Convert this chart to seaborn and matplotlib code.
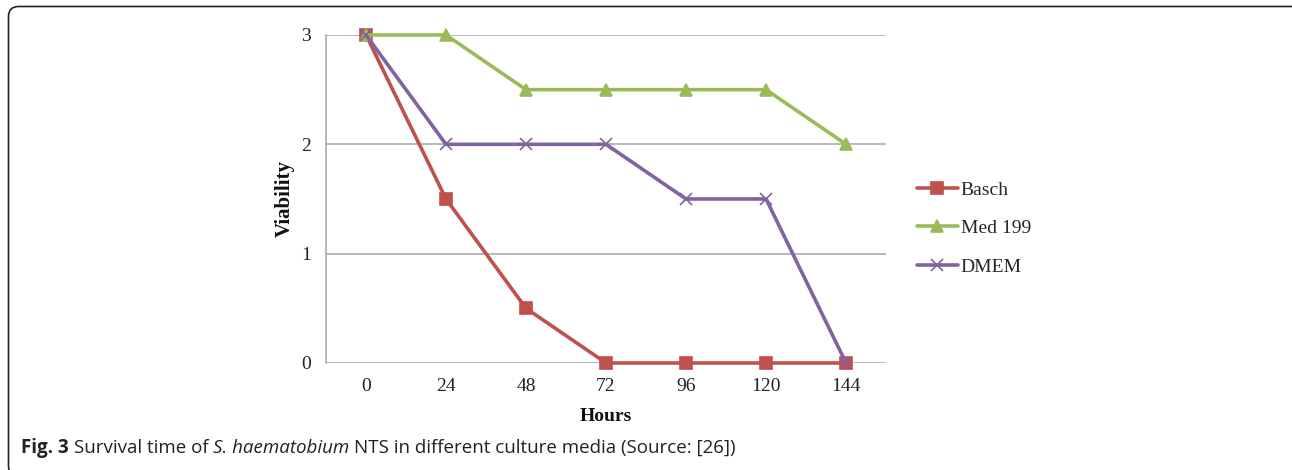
import matplotlib
import matplotlib.pyplot as plt
import pandas as pd
import seaborn as sns
from matplotlib.patches import FancyBboxPatch

matplotlib.use("Agg")

# Data
hours = ["0", "24", "48", "72", "96", "120", "144"]
basch = [3, 1.5, 0.5, 0, 0, 0, 0]
med199 = [3, 3, 2.5, 2.5, 2.5, 2.5, 2]
dmem = [3, 2, 2, 2, 1.5, 1.5, 0]
series_names = ["Basch", "Med 199", "DMEM"]

df = pd.DataFrame({
    "Hours": hours * 3,
    "Viability": basch + med199 + dmem,
    "Medium": [n for n in series_names for _ in hours],
})

sns.set_style("white")
plt.rcParams["font.family"] = ["Liberation Serif", "DejaVu Serif"]

fig = plt.figure(figsize=(12.92, 4.70), dpi=100)
ax = fig.add_axes([0.2523, 0.2277, 0.4335, 0.6979])

colors = {"Basch": "#C0504D", "Med 199": "#9BBB59", "DMEM": "#8064A2"}
markers = {"Basch": "s", "Med 199": "^", "DMEM": "x"}
for name in series_names:
    sub = df[df["Medium"] == name]
    sns.lineplot(data=sub, x="Hours", y="Viability", color=colors[name],
                 marker=markers[name], linewidth=2.6, markersize=9,
                 markeredgewidth=1.2, markeredgecolor=colors[name],
                 label=name, ax=ax, clip_on=False, zorder=3)

ax.set_xlim(-0.5, 6.5)
ax.set_ylim(0, 3)
ax.set_yticks([0, 1, 2, 3])
ax.yaxis.grid(True, color="#A6A6A6", linewidth=1.1)
ax.set_axisbelow(True)
for s in ["top", "right", "bottom"]:
    ax.spines[s].set_visible(False)
ax.spines["left"].set_color("#A6A6A6")
ax.spines["left"].set_linewidth(1.1)
ax.tick_params(axis="y", length=6, width=1.1, color="#A6A6A6", labelsize=14, pad=5,
               labelcolor="#222222")
ax.tick_params(axis="x", length=0, labelsize=14, pad=11, labelcolor="#222222")
ax.set_xlabel("Hours", fontsize=14, fontweight="bold", labelpad=9, color="#111111")
ax.set_ylabel("Viability", fontsize=15, fontweight="bold", labelpad=4, color="#111111")

ax.legend(loc="center left", bbox_to_anchor=(1.055, 0.41), frameon=False,
          fontsize=14, handlelength=2.1, handletextpad=0.15, labelspacing=1.08,
          borderpad=0, borderaxespad=0)

# caption built from pieces with different styles
renderer = fig.canvas.get_renderer()
cap_size = 13.5
cap_pieces = [
    ("Fig. 3", "bold", "normal"),
    ("Survival time of", "normal", "normal"),
    ("S. haematobium", "normal", "italic"),
    ("NTS in different culture media (Source: [26])", "normal", "normal"),
]
probe1 = fig.text(0, 0, "a a", fontsize=cap_size, family="Open Sans")
probe2 = fig.text(0, 0, "aa", fontsize=cap_size, family="Open Sans")
space_w = (probe1.get_window_extent(renderer).width
           - probe2.get_window_extent(renderer).width)
probe1.remove()
probe2.remove()

x_px = 21
for txt, weight, style in cap_pieces:
    t = fig.text(x_px / 1292, 17 / 470, txt, fontsize=cap_size, family="Open Sans",
                 fontweight=weight, fontstyle=style, va="baseline", ha="left",
                 color="#222222")
    x_px += t.get_window_extent(renderer).width + space_w

border = FancyBboxPatch((8.5, -6), 1310, 469.5, boxstyle="round,pad=0,rounding_size=10",
                        transform=None, fill=False, edgecolor="#222222", linewidth=1.2)
fig.patches.append(border)

plt.savefig("out.png", dpi=100)
